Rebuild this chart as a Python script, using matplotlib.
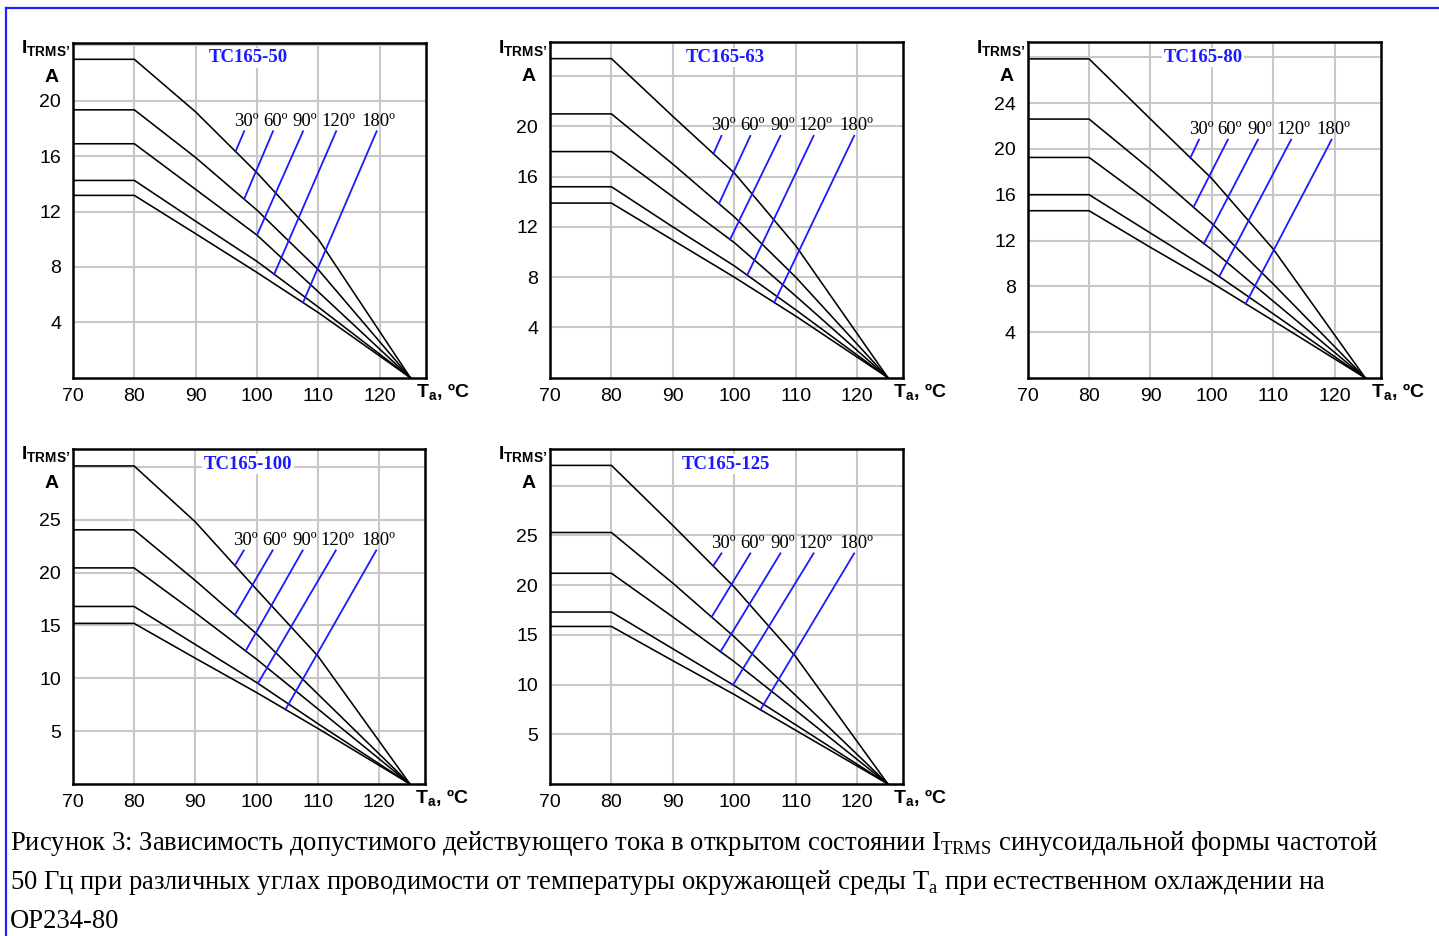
import numpy as np
import matplotlib.pyplot as plt
from matplotlib.lines import Line2D

plt.rcParams['mathtext.fontset'] = 'custom'
plt.rcParams['mathtext.rm'] = 'Liberation Serif'
plt.rcParams['mathtext.bf'] = 'Liberation Sans:bold'

# ambient temperature points where the curves bend, degC
temps = [70, 80, 90, 100, 110, 125]
angles = ['30º', '60º', '90º', '120º', '180º']

# allowed RMS current, A (one row per conduction angle, 30..180)
tc50 = [[23.0, 23.0, 19.2, 14.8, 10.0, 0],
        [19.35, 19.35, 15.9, 12.1, 7.8, 0],
        [16.9, 16.9, 13.6, 10.3, 6.2, 0],
        [14.25, 14.25, 11.3, 8.4, 5.1, 0],
        [13.17, 13.17, 10.4, 7.6, 4.7, 0]]
tc63 = [[25.4, 25.4, 20.8, 16.3, 10.5, 0],
        [21.0, 21.0, 17.0, 12.8, 8.0, 0],
        [18.0, 18.0, 14.4, 10.75, 6.5, 0],
        [15.2, 15.2, 12.0, 8.9, 5.4, 0],
        [13.9, 13.9, 10.95, 8.0, 4.9, 0]]
tc80 = [[27.85, 27.85, 22.6, 17.4, 11.25, 0],
        [22.6, 22.6, 18.2, 13.5, 8.2, 0],
        [19.25, 19.25, 15.3, 11.2, 6.7, 0],
        [16.0, 16.0, 12.65, 9.3, 5.6, 0],
        [14.6, 14.6, 11.4, 8.3, 5.0, 0]]
tc100 = [[30.1, 30.1, 24.8, 18.4, 12.1, 0],
         [24.05, 24.05, 19.25, 14.2, 8.5, 0],
         [20.45, 20.45, 16.2, 11.8, 7.1, 0],
         [16.8, 16.8, 13.2, 9.6, 5.7, 0],
         [15.2, 15.2, 11.9, 8.65, 5.25, 0]]
tc125 = [[32.05, 32.05, 26.0, 19.8, 12.8, 0],
         [25.3, 25.3, 20.2, 14.8, 8.9, 0],
         [21.2, 21.2, 16.8, 12.3, 7.4, 0],
         [17.3, 17.3, 13.6, 9.9, 5.95, 0],
         [15.85, 15.85, 12.4, 9.0, 5.4, 0]]

# where the blue pointer lines touch their curve (temperature)
ptr50 = [96.5, 97.9, 100.0, 102.8, 107.5]
ptr63 = [96.6, 97.5, 99.3, 102.1, 106.5]
ptr80 = [96.5, 97.0, 98.7, 101.2, 105.5]
ptr100 = [96.45, 96.45, 98.2, 100.2, 104.7]
ptr125 = [96.55, 96.3, 97.75, 99.8, 104.25]
# upper ends of the pointers
ptr_top_x = [97.9, 102.6, 107.5, 112.9, 119.5]

W, H = 1439, 936
fig = plt.figure(figsize=(W / 100, H / 100), dpi=100)

BLUE = '#1a1aff'


def make_axes(left, right, top, bottom):
    return fig.add_axes([left / W, 1 - bottom / H, (right - left) / W, (bottom - top) / H])


def draw_chart(ax, curves, ptr_x, ptr_top_y, title, yticks, ygrid_extra, ytop):
    ax.set_xlim(70, 127.5)
    ax.set_ylim(0, ytop)
    ax.set_xticks([70, 80, 90, 100, 110, 120])
    ax.set_yticks(yticks + [ygrid_extra])
    ax.set_yticklabels([str(t) for t in yticks] + [''])
    ax.tick_params(length=0, labelsize=14)
    ax.tick_params(axis='y', pad=8.5)
    ax.tick_params(axis='x', pad=7.5)
    for lab in ax.get_xticklabels() + ax.get_yticklabels():
        lab.set_fontfamily('Liberation Sans')
    ax.grid(True, color='#c8c8c8', lw=1.5, zorder=0)
    ax.set_axisbelow(True)
    for s in ax.spines.values():
        s.set_linewidth(1.8)
        s.set_zorder(5)

    for row in curves:
        ax.plot(temps, row, color='black', lw=1.15, zorder=3)

    # blue pointer lines with angle labels
    for i, row in enumerate(curves):
        x0 = ptr_x[i]
        y0 = np.interp(x0, temps, row)
        ax.plot([x0, ptr_top_x[i]], [y0, ptr_top_y], color=BLUE, lw=1.3, zorder=4)
        ax.annotate(angles[i], (ptr_top_x[i], ptr_top_y), xytext=(1.5, 4),
                    textcoords='offset points', ha='center', va='baseline',
                    fontsize=13.5, family='Liberation Serif', zorder=6)

    ax.text(0.497, 0.955, title, transform=ax.transAxes, ha='center', va='center',
            color=BLUE, fontsize=13.5, fontweight='bold', family='Liberation Serif',
            bbox=dict(fc='white', ec='none', pad=1), zorder=6)

    # axis captions
    ax.annotate('I$_{\\mathbf{TRMS’}}$', (0, 1), xycoords='axes fraction',
                xytext=(-52, -11), textcoords='offset pixels', ha='left', va='baseline',
                fontsize=14, fontweight='bold', family='Liberation Sans')
    ax.annotate('A', (0, 1), xycoords='axes fraction',
                xytext=(-21, -39), textcoords='offset pixels', ha='center', va='baseline',
                fontsize=14, fontweight='bold', family='Liberation Sans')
    ax.annotate('T$_{\\mathbf{a}}$, ºC', (1, 0), xycoords='axes fraction',
                xytext=(-10, -20), textcoords='offset pixels', ha='left', va='baseline',
                fontsize=14, fontweight='bold', family='Liberation Sans')


ax1 = make_axes(73, 425.7, 42.7, 377.7)
draw_chart(ax1, tc50, ptr50, 17.8, 'TC165-50', [4, 8, 12, 16, 20], 24, 24.2)
ax2 = make_axes(550, 903.3, 42.3, 377.7)
draw_chart(ax2, tc63, ptr63, 19.25, 'TC165-63', [4, 8, 12, 16, 20], 24, 26.7)
ax3 = make_axes(1027.7, 1380.7, 42.3, 378)
draw_chart(ax3, tc80, ptr80, 20.8, 'TC165-80', [4, 8, 12, 16, 20, 24], 28, 29.3)
ax4 = make_axes(72.7, 425.3, 449, 784)
draw_chart(ax4, tc100, ptr100, 22.1, 'TC165-100', [5, 10, 15, 20, 25], 30, 31.7)
ax5 = make_axes(550, 903.3, 449, 784)
draw_chart(ax5, tc125, ptr125, 23.2, 'TC165-125', [5, 10, 15, 20, 25], 30, 33.7)

# page frame lines (blue, top and left)
fig.add_artist(Line2D([5.5 / W, 1], [1 - 8.3 / H, 1 - 8.3 / H], color='#2020ff', lw=1.6))
fig.add_artist(Line2D([5.5 / W, 5.5 / W], [0, 1 - 8.3 / H], color='#2020ff', lw=1.6))

# caption
cap_lines = [
    'Рисунок 3: Зависимость допустимого действующего тока в открытом состоянии I$_{\\mathrm{TRMS}}$ синусоидальной формы частотой',
    '50 Гц при различных углах проводимости от температуры окружающей среды T$_{\\mathrm{a}}$ при естественном охлаждении на',
    'ОР234-80',
]
for k, line in enumerate(cap_lines):
    fig.text(10 / W, 1 - (850 + 39 * k) / H, line, ha='left', va='baseline',
             fontsize=19.2, family='Liberation Serif')

fig.savefig('out.png', dpi=100)
